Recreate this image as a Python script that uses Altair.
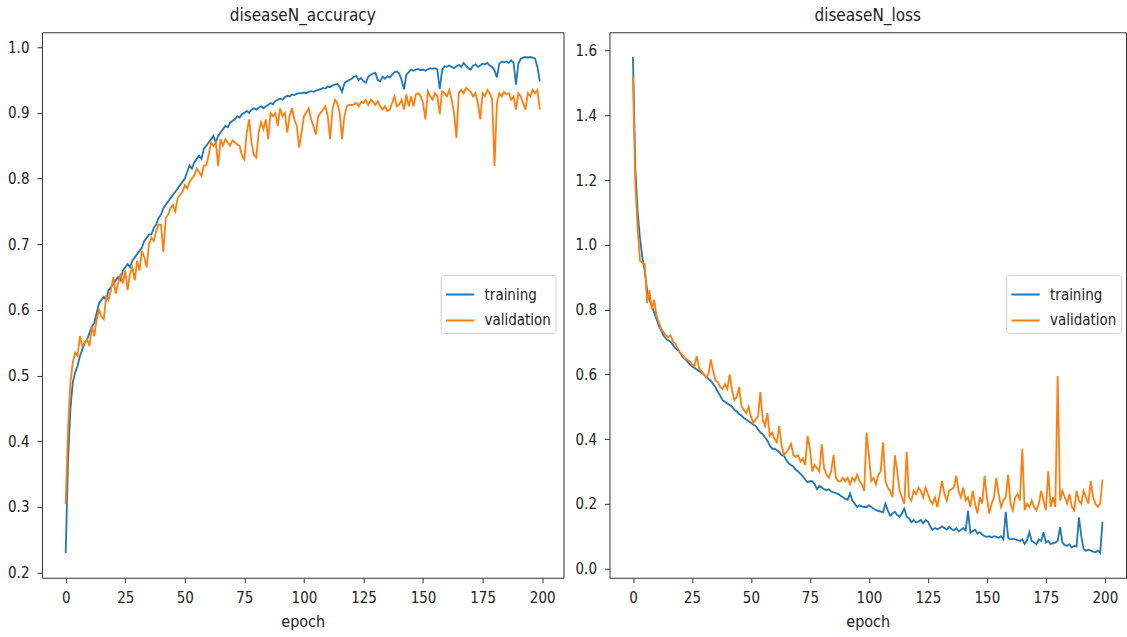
import altair as alt
import pandas as pd

# Training history of the diseaseN head: accuracy and loss per epoch
epochs = list(range(200))

train_acc = [
    0.23, 0.37, 0.45, 0.49, 0.505, 0.515, 0.53, 0.54, 0.55, 0.555,
    0.565, 0.575, 0.58, 0.595, 0.61, 0.615, 0.62, 0.615, 0.63, 0.635,
    0.64, 0.645, 0.65, 0.645, 0.66, 0.665, 0.67, 0.665, 0.675, 0.68,
    0.685, 0.69, 0.695, 0.705, 0.71, 0.715, 0.715, 0.725, 0.73, 0.74,
    0.745, 0.755, 0.76, 0.765, 0.77, 0.775, 0.78, 0.785, 0.79, 0.795,
    0.80, 0.81, 0.82, 0.815, 0.825, 0.83, 0.835, 0.83, 0.845, 0.85,
    0.855, 0.86, 0.865, 0.855, 0.865, 0.87, 0.875, 0.88, 0.878, 0.885,
    0.888, 0.89, 0.895, 0.893, 0.898, 0.90, 0.903, 0.90, 0.905, 0.907,
    0.905, 0.908, 0.91, 0.907, 0.91, 0.912, 0.915, 0.913, 0.918, 0.92,
    0.922, 0.92, 0.924, 0.926, 0.925, 0.928, 0.927, 0.929, 0.93, 0.93,
    0.931, 0.93, 0.932, 0.933, 0.932, 0.934, 0.935, 0.936, 0.938, 0.937,
    0.94, 0.939, 0.942, 0.943, 0.944, 0.94, 0.932, 0.945, 0.948, 0.95,
    0.952, 0.955, 0.956, 0.95, 0.953, 0.948, 0.946, 0.955, 0.958, 0.96,
    0.961, 0.95, 0.948, 0.955, 0.952, 0.956, 0.954, 0.958, 0.962, 0.963,
    0.96, 0.95, 0.936, 0.958, 0.962, 0.966, 0.964, 0.966, 0.967, 0.965,
    0.966, 0.964, 0.966, 0.968, 0.967, 0.968, 0.966, 0.936, 0.965, 0.971,
    0.97, 0.972, 0.97, 0.968, 0.971, 0.973, 0.97, 0.976, 0.972, 0.968,
    0.966, 0.972, 0.974, 0.97, 0.972, 0.975, 0.974, 0.976, 0.972, 0.97,
    0.965, 0.954, 0.975, 0.978, 0.977, 0.978, 0.976, 0.98, 0.976, 0.943,
    0.975, 0.982, 0.984, 0.985, 0.984, 0.985, 0.984, 0.983, 0.97, 0.948,
]

val_acc = [
    0.304, 0.42, 0.49, 0.52, 0.535, 0.53, 0.56, 0.545, 0.55, 0.555,
    0.545, 0.575, 0.56, 0.585, 0.60, 0.59, 0.586, 0.62, 0.615, 0.63,
    0.65, 0.625, 0.64, 0.655, 0.64, 0.66, 0.63, 0.655, 0.665, 0.645,
    0.675, 0.66, 0.69, 0.68, 0.665, 0.70, 0.71, 0.705, 0.72, 0.73,
    0.73, 0.688, 0.74, 0.745, 0.755, 0.76, 0.75, 0.77, 0.775, 0.78,
    0.79, 0.785, 0.795, 0.80, 0.805, 0.815, 0.81, 0.804, 0.82, 0.82,
    0.835, 0.855, 0.85, 0.855, 0.819, 0.86, 0.85, 0.86, 0.855, 0.85,
    0.858, 0.855, 0.852, 0.85, 0.835, 0.829, 0.87, 0.89, 0.855, 0.836,
    0.832, 0.87, 0.886, 0.875, 0.89, 0.86, 0.90, 0.895, 0.90, 0.88,
    0.907, 0.895, 0.90, 0.87, 0.895, 0.907, 0.89, 0.88, 0.847, 0.87,
    0.895, 0.90, 0.907, 0.89, 0.88, 0.867, 0.895, 0.90, 0.905, 0.91,
    0.895, 0.86, 0.905, 0.92, 0.915, 0.90, 0.86, 0.895, 0.91, 0.912,
    0.912, 0.913, 0.915, 0.91, 0.917, 0.915, 0.92, 0.912, 0.92, 0.917,
    0.912, 0.918, 0.91, 0.905, 0.91, 0.903, 0.905, 0.915, 0.925, 0.91,
    0.913, 0.92, 0.905, 0.928, 0.91, 0.925, 0.91, 0.928, 0.93, 0.925,
    0.915, 0.89, 0.933, 0.925, 0.92, 0.93, 0.925, 0.898, 0.933, 0.93,
    0.925, 0.935, 0.92, 0.90, 0.862, 0.93, 0.935, 0.93, 0.938, 0.935,
    0.932, 0.925, 0.93, 0.915, 0.89, 0.93, 0.925, 0.935, 0.93, 0.92,
    0.819, 0.915, 0.93, 0.925, 0.932, 0.928, 0.93, 0.92, 0.925, 0.905,
    0.93, 0.925, 0.915, 0.905, 0.93, 0.925, 0.935, 0.93, 0.935, 0.905,
]

train_loss = [
    1.58, 1.24, 1.10, 1.02, 0.96, 0.92, 0.86, 0.83, 0.81, 0.79,
    0.77, 0.75, 0.735, 0.72, 0.71, 0.705, 0.70, 0.69, 0.68, 0.675,
    0.665, 0.655, 0.648, 0.64, 0.632, 0.625, 0.62, 0.615, 0.61, 0.605,
    0.60, 0.592, 0.585, 0.58, 0.57, 0.56, 0.545, 0.533, 0.52, 0.515,
    0.51, 0.505, 0.50, 0.49, 0.485, 0.478, 0.472, 0.465, 0.46, 0.455,
    0.45, 0.445, 0.44, 0.43, 0.42, 0.415, 0.405, 0.395, 0.38, 0.37,
    0.37, 0.365, 0.36, 0.35, 0.348, 0.335, 0.325, 0.32, 0.315, 0.305,
    0.30, 0.292, 0.285, 0.275, 0.266, 0.27, 0.27, 0.26, 0.245, 0.255,
    0.25, 0.245, 0.242, 0.245, 0.238, 0.235, 0.233, 0.23, 0.225, 0.22,
    0.215, 0.212, 0.232, 0.21, 0.20, 0.19, 0.195, 0.192, 0.19, 0.19,
    0.195, 0.19, 0.185, 0.18, 0.178, 0.176, 0.174, 0.20, 0.18, 0.163,
    0.17, 0.175, 0.165, 0.16, 0.17, 0.185, 0.16, 0.155, 0.143, 0.15,
    0.142, 0.145, 0.15, 0.14, 0.15, 0.145, 0.13, 0.12, 0.125, 0.121,
    0.125, 0.13, 0.125, 0.12, 0.128, 0.122, 0.118, 0.125, 0.115, 0.12,
    0.125, 0.118, 0.178, 0.11, 0.115, 0.12, 0.108, 0.112, 0.105, 0.10,
    0.098, 0.10, 0.096, 0.10, 0.098, 0.095, 0.10, 0.09, 0.175, 0.095,
    0.09, 0.092, 0.09, 0.088, 0.085, 0.09, 0.076, 0.088, 0.112, 0.085,
    0.08, 0.075, 0.09, 0.085, 0.112, 0.08, 0.085, 0.075, 0.078, 0.08,
    0.085, 0.128, 0.08, 0.072, 0.07, 0.075, 0.065, 0.07, 0.068, 0.158,
    0.10, 0.06, 0.055, 0.058, 0.055, 0.052, 0.05, 0.055, 0.048, 0.145,
]

val_loss = [
    1.52, 1.19, 1.05, 0.95, 0.945, 0.94, 0.82, 0.86, 0.80, 0.83,
    0.78, 0.76, 0.74, 0.73, 0.72, 0.715, 0.72, 0.70, 0.695, 0.68,
    0.665, 0.66, 0.65, 0.645, 0.64, 0.63, 0.625, 0.656, 0.62, 0.61,
    0.60, 0.59, 0.60, 0.646, 0.61, 0.58, 0.575, 0.56, 0.554, 0.57,
    0.555, 0.60, 0.55, 0.52, 0.53, 0.56, 0.50, 0.49, 0.48, 0.50,
    0.47, 0.45, 0.46, 0.47, 0.545, 0.46, 0.44, 0.48, 0.41, 0.42,
    0.40, 0.39, 0.44, 0.38, 0.35, 0.36, 0.37, 0.385, 0.35, 0.345,
    0.35, 0.33, 0.34, 0.32, 0.41, 0.37, 0.30, 0.32, 0.31, 0.30,
    0.384, 0.31, 0.29, 0.28, 0.30, 0.35, 0.28, 0.27, 0.27, 0.28,
    0.27, 0.28, 0.26, 0.28, 0.27, 0.29, 0.27, 0.26, 0.24, 0.42,
    0.35, 0.27, 0.28, 0.26, 0.29, 0.30, 0.39, 0.27, 0.25, 0.24,
    0.22, 0.35, 0.30, 0.24, 0.22, 0.20, 0.36, 0.22, 0.21, 0.24,
    0.23, 0.25, 0.24, 0.22, 0.25, 0.23, 0.21, 0.20, 0.22, 0.19,
    0.23, 0.27, 0.23, 0.21, 0.24, 0.245, 0.25, 0.286, 0.24, 0.22,
    0.25, 0.21, 0.22, 0.19, 0.24, 0.20, 0.17, 0.22, 0.20, 0.286,
    0.22, 0.17, 0.20, 0.22, 0.28, 0.23, 0.19, 0.21, 0.22, 0.29,
    0.20, 0.18, 0.22, 0.23, 0.21, 0.37, 0.18, 0.20, 0.19, 0.21,
    0.19, 0.18, 0.20, 0.24, 0.21, 0.18, 0.30, 0.19, 0.22, 0.19,
    0.595, 0.21, 0.24, 0.22, 0.20, 0.23, 0.19, 0.18, 0.24, 0.21,
    0.20, 0.24, 0.22, 0.20, 0.27, 0.22, 0.20, 0.19, 0.20, 0.275,
]

series_names = ["training", "validation"]
series_colors = ["#1f77b4", "#ff7f0e"]
x_ticks = [0, 25, 50, 75, 100, 125, 150, 175, 200]
acc_ticks = [0.2, 0.3, 0.4, 0.5, 0.6, 0.7, 0.8, 0.9, 1.0]
loss_ticks = [0.0, 0.2, 0.4, 0.6, 0.8, 1.0, 1.2, 1.4, 1.6]

FONT = "DejaVu Sans Condensed, DejaVu Sans, sans-serif"
INK = "#222222"
PLOT_H = 546


def long_frame(train, val):
    return pd.DataFrame({
        "epoch": epochs + epochs,
        "value": train + val,
        "series": ["training"] * len(train) + ["validation"] * len(val),
    })


def panel(df, title, y_domain, y_ticks, width, y_extent, legend_x):
    legend = alt.Legend(
        title=None, orient="none", legendX=legend_x, legendY=243,
        symbolType="stroke", symbolSize=800, symbolStrokeWidth=2,
        labelFontSize=15, labelFont=FONT, labelColor=INK, labelOffset=9,
        fillColor="white", strokeColor="#d0d0d0", padding=4,
        cornerRadius=3, rowPadding=2,
    )
    return (
        alt.Chart(df, title=alt.Title(title, fontSize=17, font=FONT,
                                      fontWeight="normal", color=INK, offset=7))
        .mark_line(strokeWidth=1.8)
        .encode(
            x=alt.X("epoch:Q",
                    scale=alt.Scale(domain=[-9.95, 208.95], nice=False, zero=False),
                    axis=alt.Axis(values=x_ticks, title="epoch", format="d")),
            y=alt.Y("value:Q",
                    scale=alt.Scale(domain=y_domain, nice=False, zero=False),
                    axis=alt.Axis(values=y_ticks, title=None, format=".1f",
                                  minExtent=y_extent, maxExtent=y_extent)),
            color=alt.Color("series:N",
                            scale=alt.Scale(domain=series_names, range=series_colors),
                            legend=legend),
        )
        .properties(width=width, height=PLOT_H)
    )


acc_panel = panel(long_frame(train_acc, val_acc), "diseaseN_accuracy",
                  [0.19225, 1.02275], acc_ticks, 522, 36, 399)
loss_panel = panel(long_frame(train_loss, val_loss), "diseaseN_loss",
                   [-0.0286, 1.6566], loss_ticks, 517, 33, 397)

chart = (
    alt.hconcat(acc_panel, loss_panel, spacing=10)
    .resolve_scale(color="independent")
    .resolve_legend(color="independent")
    .properties(padding={"left": 5, "top": 6, "right": 0, "bottom": 0},
                background="white")
    .configure_view(stroke="#333333", strokeWidth=1)
    .configure_axis(
        domain=False, grid=False, ticks=True, tickSize=5, tickColor="#333333",
        labelFont=FONT, labelFontSize=15, labelColor=INK, labelPadding=8,
        titleFont=FONT, titleFontSize=16, titleFontWeight="normal",
        titleColor=INK, titlePadding=8,
    )
)

chart.save("out.html", embed_options={"renderer": "svg", "actions": False})
